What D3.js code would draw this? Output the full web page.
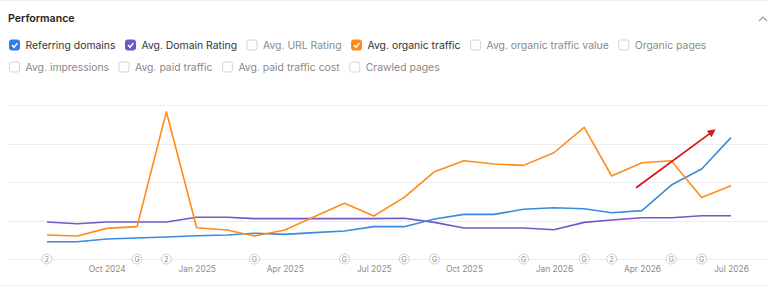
<!DOCTYPE html>
<html>
<head>
<meta charset="utf-8">
<script src="https://cdn.jsdelivr.net/npm/d3@7"></script>
<style>
  body { margin: 0; background: #fff; }
  svg { display: block; font-family: Inter, "Noto Sans", sans-serif; }
</style>
</head>
<body>
<div id="chart"></div>
<script>
// months shown on the chart (one point per month)
const months = ["2024-08","2024-09","2024-10","2024-11","2024-12","2025-01","2025-02","2025-03",
    "2025-04","2025-05","2025-06","2025-07","2025-08","2025-09","2025-10","2025-11",
    "2025-12","2026-01","2026-02","2026-03","2026-04","2026-05","2026-06","2026-07"];

// relative height of each series (0..100 of the plot)
const referringDomains = [11.2,11.2,13,13.6,14.3,15.1,15.6,16.7,16.0,17.1,18.2,21,
    21,26,29,29,32.3,33.3,32.6,30,31.4,48,58.4,78.8];
const domainRating = [24,22.9,24,24,24,27.1,27.1,26.2,26.2,26.2,26.2,26.2,
    26.5,23.8,20.1,20.1,20.1,19,23.8,25.3,26.8,26.8,28.1,28.1];
const organicTraffic = [15.6,14.9,19.9,21,95.6,20.3,18.8,14.9,18.8,27.5,36.2,27.9,
    40,56.7,63.8,61.7,60.8,69,85.5,53.9,62.5,63.8,40,47.6];

const gridValues = [0, 25, 50, 75, 100];
const tickLabels = ["2024-10","2025-01","2025-04","2025-07","2025-10","2026-01","2026-04","2026-07"];

// annotation markers on the baseline
const markerMonths = ["2024-08","2024-11","2024-12","2025-03","2025-06","2025-08","2025-09",
    "2025-12","2026-02","2026-03","2026-05","2026-06"];
const markerText = ["2","G","2","G","G","G","G","G","G","2","G","G"];

// red trend arrow (start / end, in date + value)
const arrowDates = ["2026-03-26","2026-06-12"];
const arrowValues = [46.3, 82.7];

const legendRow1 = ["Referring domains","Avg. Domain Rating","Avg. URL Rating","Avg. organic traffic","Avg. organic traffic value","Organic pages"];
const legendRow2 = ["Avg. impressions","Avg. paid traffic","Avg. paid traffic cost","Crawled pages"];
const legendChecked = {"Referring domains": "#2f80e3", "Avg. Domain Rating": "#6f57c6", "Avg. organic traffic": "#ff8a14"};

const W = 768, H = 290;
const parseMonth = d3.timeParse("%Y-%m");
const parseDay = d3.timeParse("%Y-%m-%d");

const svg = d3.select("#chart").append("svg")
    .attr("width", W)
    .attr("height", H);

// top + bottom separators
svg.append("line").attr("x1", 0).attr("x2", W).attr("y1", 0.5).attr("y2", 0.5).attr("stroke", "#eeeeee");
svg.append("line").attr("x1", 0).attr("x2", W).attr("y1", 285.5).attr("y2", 285.5).attr("stroke", "#eeeeee");

// title
svg.append("text")
    .attr("x", 8).attr("y", 22)
    .attr("font-size", 10.6)
    .attr("font-weight", 600)
    .attr("fill", "#222")
    .text("Performance");

// collapse chevron
svg.append("path")
    .attr("d", "M759,21 L763,17 L767,21")
    .attr("fill", "none")
    .attr("stroke", "#999")
    .attr("stroke-width", 1.2);

// legend with checkboxes
function drawLegend(items, y) {
    let x = 9;
    items.forEach(name => {
        let col = legendChecked[name];
        let g = svg.append("g").attr("transform", `translate(${x},${y})`);
        g.append("rect")
            .attr("x", 0.5).attr("y", -4.5)
            .attr("width", 10).attr("height", 10)
            .attr("rx", 2)
            .attr("fill", col ? col : "#fff")
            .attr("stroke", col ? col : "#d4d4d4");
        if (col) {
            g.append("path")
                .attr("d", "M3,0.6 L5,2.8 L8.4,-1.4")
                .attr("fill", "none")
                .attr("stroke", "#fff")
                .attr("stroke-width", 1.5);
        }
        let t = g.append("text")
            .attr("x", 16.5).attr("y", 4)
            .attr("font-size", 10.4)
            .attr("fill", col ? "#333" : "#8a8a8a")
            .text(name);
        x += 16.5 + t.node().getComputedTextLength() + 9.5;
    });
}
drawLegend(legendRow1, 44.5);
drawLegend(legendRow2, 66.5);

// scales
const x = d3.scaleTime()
    .domain([parseMonth(months[0]), parseMonth(months[months.length - 1])])
    .range([47, 731]);
const y = d3.scaleLinear()
    .domain([0, 100])
    .range([259, 105]);

// gridlines
svg.append("g").selectAll("line")
    .data(gridValues)
    .enter().append("line")
    .attr("x1", 8).attr("x2", W)
    .attr("y1", d => Math.round(y(d)) + 0.5)
    .attr("y2", d => Math.round(y(d)) + 0.5)
    .attr("stroke", "#ececec");

// x axis labels
const xAxis = d3.axisBottom(x)
    .tickValues(tickLabels.map(parseMonth))
    .tickFormat(d3.timeFormat("%b %Y"))
    .tickSize(0)
    .tickPadding(0);
let axisG = svg.append("g")
    .attr("transform", "translate(0,266)")
    .call(xAxis);
axisG.select(".domain").remove();
axisG.selectAll("text")
    .attr("font-family", "Inter, 'Noto Sans', sans-serif")
    .attr("font-size", 8.4)
    .attr("fill", "#8c8c8c");

// series lines
const line = d3.line()
    .x((d, i) => x(parseMonth(months[i])))
    .y(d => y(d));

const series = [
    { name: "Avg. Domain Rating", values: domainRating, color: "#7457c4" },
    { name: "Referring domains", values: referringDomains, color: "#3a8ae0" },
    { name: "Avg. organic traffic", values: organicTraffic, color: "#ff8b1a" }
];

svg.append("g").selectAll("path")
    .data(series)
    .enter().append("path")
    .attr("d", d => line(d.values))
    .attr("fill", "none")
    .attr("stroke", d => d.color)
    .attr("stroke-width", 1.6)
    .attr("stroke-linejoin", "round");

// markers on baseline
let mk = svg.append("g").selectAll("g")
    .data(markerMonths)
    .enter().append("g")
    .attr("transform", d => `translate(${x(parseMonth(d))},${y(0)})`);
mk.append("circle")
    .attr("r", 5)
    .attr("fill", "#fff")
    .attr("stroke", "#cfcfcf");
mk.append("text")
    .attr("text-anchor", "middle")
    .attr("y", 2.5)
    .attr("font-size", 7)
    .attr("fill", "#888")
    .text((d, i) => markerText[i]);

// red arrow
svg.append("defs").append("marker")
    .attr("id", "arrowHead")
    .attr("viewBox", "0 0 10 10")
    .attr("refX", 5).attr("refY", 5)
    .attr("markerWidth", 4.5).attr("markerHeight", 4.5)
    .attr("orient", "auto")
    .append("path")
    .attr("d", "M0,0 L10,5 L0,10 Z")
    .attr("fill", "#d8161c");

svg.append("line")
    .attr("x1", x(parseDay(arrowDates[0])))
    .attr("y1", y(arrowValues[0]))
    .attr("x2", x(parseDay(arrowDates[1])))
    .attr("y2", y(arrowValues[1]))
    .attr("stroke", "#d8161c")
    .attr("stroke-width", 1.8)
    .attr("marker-end", "url(#arrowHead)");
</script>
</body>
</html>
